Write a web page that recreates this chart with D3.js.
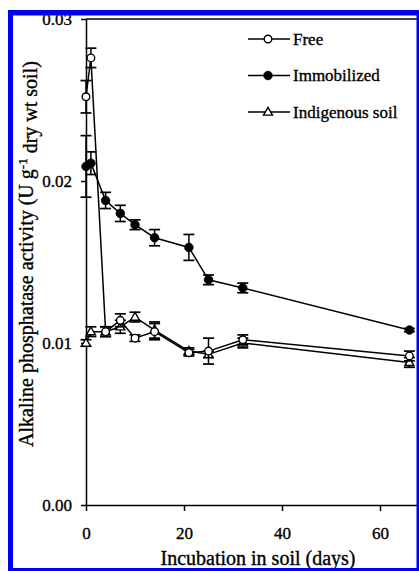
<!DOCTYPE html>
<html>
<head>
<meta charset="utf-8">
<script src="https://cdn.jsdelivr.net/npm/d3@7/dist/d3.min.js"></script>
<style>
  html, body { margin: 0; padding: 0; background: #fff; }
  svg { display: block; }
  text { font-family: "Liberation Serif", "Times New Roman", "DejaVu Serif", serif; fill: #000; }
</style>
</head>
<body>
<svg id="chart" width="419" height="571"></svg>
<script>
// Sampling days
const days = [0, 1, 4, 7, 10, 14, 21, 25, 32, 66];

// Alkaline phosphatase activity (U g-1 dry wt soil) and standard errors
const freeValues        = [0.0252, 0.0276, 0.0107, 0.0114, 0.0103, 0.0107, 0.0094, 0.0095, 0.0102, 0.0092];
const freeErrors        = [0.0010, 0.0006, 0.0003, 0.0004, 0.0002, 0.0005, 0.0002, 0.0008, 0.0003, 0.0003];
const immobilizedValues = [0.0209, 0.0211, 0.0188, 0.0180, 0.0173, 0.0165, 0.0159, 0.0139, 0.0134, 0.0108];
const immobilizedErrors = [0.0019, 0.0007, 0.0005, 0.0005, 0.0003, 0.0005, 0.0008, 0.0003, 0.0003, 0.0001];
const indigenousValues  = [0.0100, 0.0107, 0.0107, 0.0110, 0.0116, 0.0108, 0.0095, 0.0093, 0.0100, 0.0088];
const indigenousErrors  = [0.0002, 0.0003, 0.0003, 0.0004, 0.0003, 0.0005, 0.0002, 0.0002, 0.0003, 0.0003];

const seriesNames = ["Free", "Immobilized", "Indigenous soil"];

const xTicks = [0, 20, 40, 60];
const yTicks = [0, 0.01, 0.02, 0.03];

const xLabel = "Incubation in soil (days)";
const yLabelMain = "Alkaline phosphatase activity (U g";
const yLabelSup = "-1";
const yLabelTail = " dry wt soil)";

const serif = '"Liberation Serif", "Times New Roman", serif';
const textStroke = 0.35;

const svg = d3.select("#chart");
const W = 419, H = 571;

svg.append("rect").attr("width", W).attr("height", H).attr("fill", "#fff");

const x = d3.scaleLinear().domain([0, 70]).range([86, 86 + 70 * 4.9]);
const y = d3.scaleLinear().domain([0, 0.03]).range([505, 19]);

// Axes
const gx = svg.append("g")
  .attr("transform", `translate(0,${y(0)})`)
  .call(d3.axisBottom(x).tickValues(xTicks).tickFormat(d3.format("d"))
    .tickSize(6).tickSizeOuter(0).tickPadding(16));
const gy = svg.append("g")
  .attr("transform", `translate(${x(0)},0)`)
  .call(d3.axisLeft(y).tickValues(yTicks).tickFormat(d3.format(".2f"))
    .tickSize(5).tickSizeOuter(0).tickPadding(9));

[gx, gy].forEach(g => {
  g.attr("font-family", null);
  g.selectAll("path, line").attr("stroke", "#000").attr("stroke-width", 1.5);
  g.selectAll("text").style("font-family", serif).style("font-size", "17px")
    .attr("fill", "#000").attr("stroke", "#000").attr("stroke-width", textStroke);
});

// Top frame line
svg.append("line")
  .attr("x1", x(0)).attr("x2", x(70))
  .attr("y1", y(0.03)).attr("y2", y(0.03))
  .attr("stroke", "#000").attr("stroke-width", 1.5);

// Axis titles
svg.append("text")
  .attr("x", 258).attr("y", 565)
  .attr("text-anchor", "middle")
  .attr("stroke", "#000").attr("stroke-width", textStroke)
  .style("font-family", serif)
  .style("font-size", "20px")
  .text(xLabel);

const yl = svg.append("text")
  .attr("transform", `translate(33,254) rotate(-90)`)
  .attr("text-anchor", "middle")
  .attr("stroke", "#000").attr("stroke-width", textStroke)
  .style("font-family", serif)
  .style("font-size", "20px");
yl.append("tspan").text(yLabelMain);
yl.append("tspan").attr("dy", "-0.5em").style("font-size", "13px").text(yLabelSup);
yl.append("tspan").attr("dy", "0.5em").text(yLabelTail);

// Series drawing
const series = [
  { name: seriesNames[2], values: indigenousValues, errors: indigenousErrors, marker: "triangle" },
  { name: seriesNames[0], values: freeValues, errors: freeErrors, marker: "open" },
  { name: seriesNames[1], values: immobilizedValues, errors: immobilizedErrors, marker: "filled" }
];

const line = d3.line()
  .x(d => x(d.day))
  .y(d => y(d.v));

const capHalf = 5.5;

function drawMarker(g, type) {
  if (type === "open") {
    g.append("circle").attr("r", 3.8).attr("fill", "#fff").attr("stroke", "#000").attr("stroke-width", 1.4);
  } else if (type === "filled") {
    g.append("circle").attr("r", 4.3).attr("fill", "#000").attr("stroke", "#000").attr("stroke-width", 0.8);
  } else {
    const s = 9, h = s * Math.sqrt(3) / 2;
    g.append("path")
      .attr("d", `M0,${-h * 0.6}L${s / 2},${h * 0.4}L${-s / 2},${h * 0.4}Z`)
      .attr("fill", "#fff").attr("stroke", "#000").attr("stroke-width", 1.4);
  }
}

series.forEach(s => {
  const pts = days.map((d, i) => ({ day: d, v: s.values[i], e: s.errors[i] }));
  const g = svg.append("g");

  // error bars
  const eb = g.selectAll("g.eb").data(pts).join("g").attr("class", "eb");
  eb.append("line")
    .attr("x1", d => x(d.day)).attr("x2", d => x(d.day))
    .attr("y1", d => y(d.v + d.e)).attr("y2", d => y(d.v - d.e))
    .attr("stroke", "#000").attr("stroke-width", 1.5);
  eb.append("line")
    .attr("x1", d => x(d.day) - capHalf).attr("x2", d => x(d.day) + capHalf)
    .attr("y1", d => y(d.v + d.e)).attr("y2", d => y(d.v + d.e))
    .attr("stroke", "#000").attr("stroke-width", 1.7);
  eb.append("line")
    .attr("x1", d => x(d.day) - capHalf).attr("x2", d => x(d.day) + capHalf)
    .attr("y1", d => y(d.v - d.e)).attr("y2", d => y(d.v - d.e))
    .attr("stroke", "#000").attr("stroke-width", 1.7);

  g.append("path").datum(pts)
    .attr("d", line)
    .attr("fill", "none").attr("stroke", "#000").attr("stroke-width", 1.5);

  g.selectAll("g.mk").data(pts).join("g").attr("class", "mk")
    .attr("transform", d => `translate(${x(d.day)},${y(d.v)})`)
    .each(function () { drawMarker(d3.select(this), s.marker); });
});

// Legend
const legendItems = [
  { name: seriesNames[0], marker: "open" },
  { name: seriesNames[1], marker: "filled" },
  { name: seriesNames[2], marker: "triangle" }
];
const lg = svg.append("g");
legendItems.forEach((it, i) => {
  const cy = 39 + i * 36.5;
  lg.append("line").attr("x1", 248).attr("x2", 290).attr("y1", cy).attr("y2", cy)
    .attr("stroke", "#000").attr("stroke-width", 1.5);
  const m = lg.append("g").attr("transform", `translate(268,${cy})`);
  drawMarker(m, it.marker);
  lg.append("text").attr("x", 293).attr("y", cy + 5.5)
    .attr("stroke", "#000").attr("stroke-width", textStroke)
    .style("font-family", serif).style("font-size", "17px").text(it.name);
});

// Blue frame
const blue = "#0000f5";
svg.append("rect").attr("x", 0).attr("y", 0).attr("width", W).attr("height", 10).attr("fill", "#fff");
svg.append("rect").attr("x", 0).attr("y", 0).attr("width", 8).attr("height", H).attr("fill", "#fff");
svg.append("rect").attr("x", 8).attr("y", 10).attr("width", W - 8).attr("height", 5.5).attr("fill", blue);
svg.append("rect").attr("x", 8).attr("y", 10).attr("width", 5).attr("height", H - 10).attr("fill", blue);
svg.append("rect").attr("x", 416.5).attr("y", 10).attr("width", 3).attr("height", H - 10).attr("fill", blue);
svg.append("rect").attr("x", 8).attr("y", 568).attr("width", W - 8).attr("height", 3).attr("fill", blue);
</script>
</body>
</html>
